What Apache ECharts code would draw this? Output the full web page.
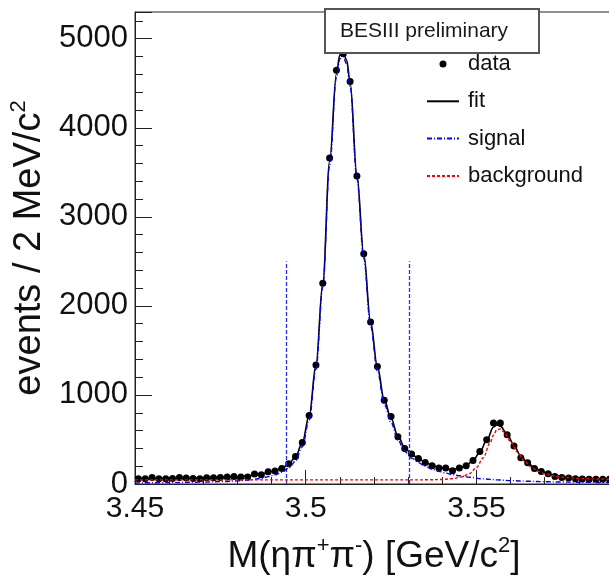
<!DOCTYPE html>
<html>
<head>
<meta charset="utf-8">
<script src="https://cdn.jsdelivr.net/npm/echarts@6/dist/echarts.min.js"></script>
<style>
html,body{margin:0;padding:0;background:#fff;}
#c{width:609px;height:579px;}
</style>
</head>
<body>
<div id="c"></div>
<script>
// ---- data ----
const binStart = 3.45, binWidth = 0.002;
const dataCounts = [59,59,74,59,59,63,74,67,63,59,70,70,74,78,85,78,78,113,104,137,
  147,173,226,309,466,769,1337,2253,3661,4645,4830,4520,3459,2586,1820,1318,940,758,530,398,
  338,286,242,205,179,179,149,179,205,265,365,497,684,684,553,426,295,238,173,140,
  114,85,74,67,59,56,54,54,54,54];

const fitX = [3.450,3.460,3.470,3.476,3.480,3.484,3.487,3.489,3.491,3.493,3.495,3.497,3.499,3.501,3.503,3.505,3.507,3.509,3.510,3.511,3.512,3.513,3.515,3.517,3.519,3.521,3.523,3.525,3.527,3.529,3.531,3.533,3.535,3.537,3.539,3.541,3.543,3.545,3.547,3.549,3.551,3.553,3.555,3.556,3.557,3.559,3.561,3.563,3.565,3.567,3.569,3.571,3.573,3.575,3.578,3.582,3.586,3.590];
const fitY = [57,60,67,74,82,95,110,130,150,178,225,305,465,765,1335,2255,3620,4610,4820,4840,4760,4510,3470,2580,1820,1315,945,735,540,410,335,285,245,212,188,172,165,178,208,262,358,490,640,662,650,560,432,316,236,182,143,116,98,86,73,64,58,55];

const sigX = [3.450,3.460,3.470,3.476,3.480,3.484,3.487,3.489,3.491,3.493,3.495,3.497,3.499,3.501,3.503,3.505,3.507,3.509,3.510,3.511,3.512,3.513,3.515,3.517,3.519,3.521,3.523,3.525,3.527,3.529,3.531,3.533,3.535,3.537,3.539,3.541,3.543,3.545,3.548,3.552,3.556,3.560,3.565,3.570,3.575,3.580,3.590];
const sigY = [12,15,21,27,35,48,63,83,103,131,178,258,418,718,1290,2210,3575,4565,4775,4795,4715,4465,3425,2535,1775,1270,900,690,495,365,290,240,200,167,142,122,105,92,75,58,46,38,31,26,22,19,15];

const bkgX = [3.450,3.530,3.536,3.540,3.543,3.546,3.548,3.550,3.552,3.554,3.555,3.556,3.557,3.558,3.560,3.562,3.564,3.566,3.568,3.570,3.572,3.575,3.580,3.585,3.590];
const bkgY = [46,46,47,51,60,82,117,185,295,460,550,610,618,585,478,358,260,190,145,115,95,78,63,56,52];

const windowEdges = [3.4942, 3.5303];
const windowTop = 2500;

const xMin = 3.45, xMax = 3.59, xStep = 0.05;
const yMin = 0, yMax = 5300, yStep = 1000;

const legendNames = ['data','fit','signal','background'];
const boxLabel = 'BESIII preliminary';

// ---- build ----
const pairs = (xs, ys) => xs.map((x, i) => [x, ys[i]]);
const dataPts = dataCounts.map((v, i) => [+(binStart + binWidth * (i + 0.5)).toFixed(4), v]);

const FONT = '"Liberation Sans", Arial, Helvetica, sans-serif';
const hiddenSymbol = {opacity: 0};

const chart = echarts.init(document.getElementById('c'), null, {renderer: 'canvas'});
chart.setOption({
  animation: false,
  backgroundColor: '#ffffff',
  textStyle: {fontFamily: FONT},
  title: {
    text: boxLabel,
    left: 325, top: 9,
    padding: [11, 31, 11, 15],
    borderColor: '#555', borderWidth: 2,
    backgroundColor: '#ffffff',
    textStyle: {fontSize: 21, fontWeight: 'normal', color: '#1a1a1a', fontFamily: FONT, lineHeight: 22},
    z: 10
  },
  legend: {
    orient: 'vertical',
    left: 426, top: 53,
    padding: 0,
    itemWidth: 32, itemHeight: 7,
    itemGap: 15.3,
    data: [
      {name: legendNames[0], icon: 'circle'},
      {name: legendNames[1], itemStyle: hiddenSymbol},
      {name: legendNames[2], itemStyle: hiddenSymbol},
      {name: legendNames[3], itemStyle: hiddenSymbol}
    ],
    textStyle: {fontSize: 22, lineHeight: 22, color: '#111', padding: [0, 0, 0, 4], fontFamily: FONT}
  },
  grid: {
    left: 135, top: 12, width: 478, height: 472,
    outerBoundsMode: 'none', containLabel: false,
    show: true, borderColor: '#222', borderWidth: 1
  },
  xAxis: {
    type: 'value', min: xMin, max: xMax, interval: xStep,
    name: '{t|M(ηπ}{s|+}{t|π}{s|-}{t|) [GeV/c}{s|2}{t|]}',
    nameLocation: 'middle', nameGap: 51,
    nameTextStyle: {
      rich: {
        t: {fontSize: 37, color: '#111', fontFamily: FONT, lineHeight: 40, verticalAlign: 'bottom'},
        s: {fontSize: 22, color: '#111', fontFamily: FONT, lineHeight: 22, verticalAlign: 'top'}
      }
    },
    axisLine: {show: true, lineStyle: {color: '#222', width: 1}},
    axisTick: {show: true, inside: true, length: 14, lineStyle: {color: '#222', width: 1}},
    minorTick: {show: true, splitNumber: 5, length: 7, lineStyle: {color: '#222', width: 1}},
    splitLine: {show: false},
    axisLabel: {
      fontSize: 30, color: '#111', margin: 10, fontFamily: FONT,
      formatter: v => {
        const k = v / xStep;
        return Math.abs(k - Math.round(k)) < 1e-6 ? String(+(+v).toFixed(2)) : '';
      }
    }
  },
  yAxis: {
    type: 'value', min: yMin, max: yMax, interval: yStep,
    name: '{t|events / 2 MeV/c}{s|2}',
    nameLocation: 'middle', nameRotate: 90, nameGap: 86,
    nameTextStyle: {
      rich: {
        t: {fontSize: 38, color: '#111', fontFamily: FONT, lineHeight: 40, verticalAlign: 'bottom'},
        s: {fontSize: 22, color: '#111', fontFamily: FONT, lineHeight: 22, verticalAlign: 'top'}
      }
    },
    axisLine: {show: true, lineStyle: {color: '#222', width: 1}},
    axisTick: {show: true, inside: true, length: 17, lineStyle: {color: '#222', width: 1}},
    minorTick: {show: true, splitNumber: 5, length: 8, lineStyle: {color: '#222', width: 1}},
    splitLine: {show: false},
    axisLabel: {
      fontSize: 31, color: '#111', margin: 7, fontFamily: FONT,
      formatter: v => (v % yStep === 0 ? String(v) : '')
    }
  },
  series: [
    {
      name: legendNames[0], type: 'scatter', data: dataPts,
      symbol: 'circle', symbolSize: 7,
      itemStyle: {color: '#000', opacity: 1}, z: 3
    },
    {
      name: legendNames[1], type: 'line', data: pairs(fitX, fitY),
      symbol: 'none', smooth: 0.35, smoothMonotone: 'x',
      lineStyle: {color: '#000', width: 1.6}, itemStyle: {color: '#000'}, z: 4
    },
    {
      name: legendNames[2], type: 'line', data: pairs(sigX, sigY),
      symbol: 'none', smooth: 0.35, smoothMonotone: 'x',
      lineStyle: {color: '#0000ff', width: 1.4, type: [5, 2, 1, 2]}, itemStyle: {color: '#0000ff'}, z: 5,
      markLine: {
        silent: true, symbol: ['none', 'none'], label: {show: false},
        lineStyle: {color: '#2a2aff', width: 1.3, type: [4, 2]},
        data: windowEdges.map(x => [{coord: [x, 0]}, {coord: [x, windowTop]}])
      }
    },
    {
      name: legendNames[3], type: 'line', data: pairs(bkgX, bkgY),
      symbol: 'none', smooth: 0.35, smoothMonotone: 'x',
      lineStyle: {color: '#ff0000', width: 1.4, type: [3, 2]}, itemStyle: {color: '#ff0000'}, z: 5
    }
  ]
});
</script>
</body>
</html>
